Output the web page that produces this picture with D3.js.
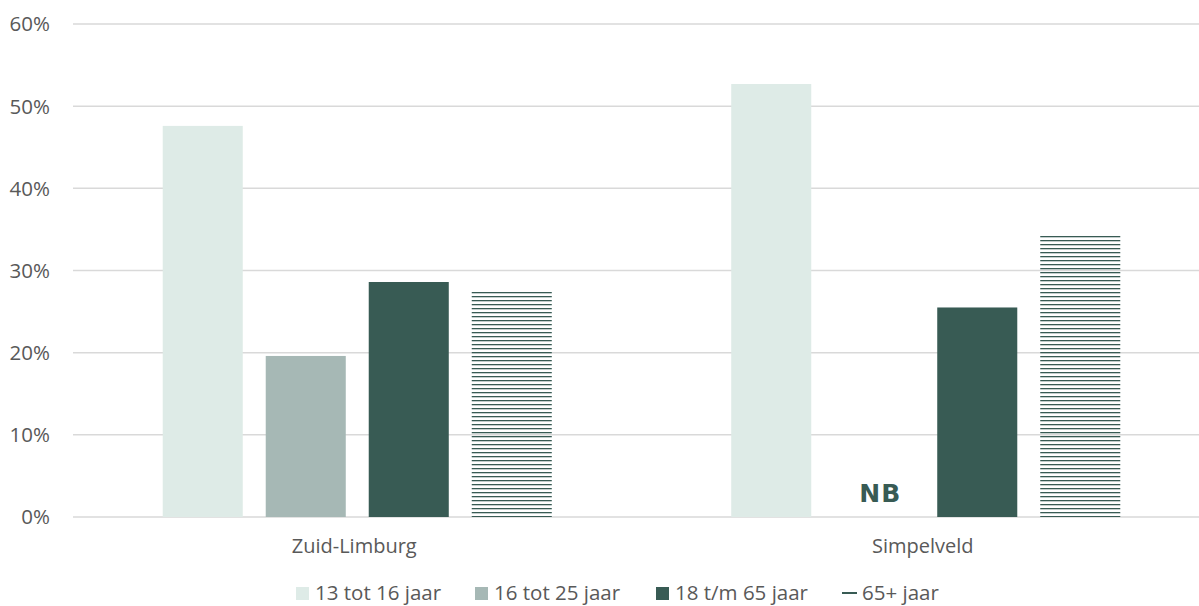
<!DOCTYPE html>
<html><head><meta charset="utf-8">
<script src="https://cdn.jsdelivr.net/npm/d3@7"></script>
<style>body{margin:0;background:#fff}svg{display:block}</style>
</head><body><svg id="c" width="1199" height="606"></svg>
<script>
const categories = ["Zuid-Limburg", "Simpelveld"];
const series = ["13 tot 16 jaar", "16 tot 25 jaar", "18 t/m 65 jaar", "65+ jaar"];
const values13_16 = [47.6, 52.7];
const values16_25 = [19.6, null];
const values18_65 = [28.6, 25.5];
const values65plus = [27.6, 34.4];
const yTicks = [0, 10, 20, 30, 40, 50, 60];
const naLabel = "NB";

const seriesValues = [values13_16, values16_25, values18_65, values65plus];
const colors = ["#deebe7", "#a6b8b5", "#385b54", "pattern"];
const textColor = "#595959";
const font = "Open Sans, sans-serif";

const svg = d3.select("#c");
const defs = svg.append("defs");
const pat = defs.append("pattern").attr("id", "hstripe").attr("patternUnits", "userSpaceOnUse")
  .attr("width", 8).attr("height", 4);
pat.append("rect").attr("x", 0).attr("y", 0).attr("width", 8).attr("height", 1.3).attr("fill", "#385b54");

const y = d3.scaleLinear().domain([0, 60]).range([517, 24]);
const x0 = d3.scaleBand().domain(categories).range([73, 1210]).padding(0);
const x1 = d3.scaleBand().domain(series).range([0, x0.bandwidth()]).paddingInner(0.223).paddingOuter(0.871);

// grid
svg.append("g").selectAll("line").data(yTicks).join("line")
  .attr("x1", 73).attr("x2", 1199)
  .attr("y1", d => y(d)).attr("y2", d => y(d))
  .attr("stroke", "#d9d9d9").attr("stroke-width", 1.5);

svg.append("g").selectAll("text").data(yTicks).join("text")
  .attr("x", 50).attr("y", d => y(d)).attr("dy", "0.36em")
  .attr("text-anchor", "end").attr("fill", textColor)
  .style("font-family", font).style("font-size", "20.5px")
  .text(d => d + "%");

// bars
const data = [];
categories.forEach((c, ci) => series.forEach((s, si) => data.push({c, s, si, v: seriesValues[si][ci]})));
svg.append("g").selectAll("rect").data(data.filter(d => d.v != null)).join("rect")
  .attr("x", d => x0(d.c) + x1(d.s)).attr("width", x1.bandwidth())
  .attr("y", d => y(d.v)).attr("height", d => y(0) - y(d.v))
  .attr("fill", d => colors[d.si] === "pattern" ? "url(#hstripe)" : colors[d.si]);

// NB labels
svg.append("g").selectAll("text").data(data.filter(d => d.v == null)).join("text")
  .attr("x", d => x0(d.c) + x1(d.s) + x1.bandwidth() / 2 + 6)
  .attr("y", y(0) - 15).attr("text-anchor", "middle")
  .attr("fill", "#385b54").style("font-family", "DejaVu Sans, sans-serif").style("font-weight", "bold")
  .style("font-size", "25px").style("letter-spacing", "1px")
  .text(naLabel);

// category labels
svg.append("g").selectAll("text").data(categories).join("text")
  .attr("x", d => x0(d) + x0.bandwidth() / 2 - 3).attr("y", 553)
  .attr("text-anchor", "middle").attr("fill", textColor)
  .style("font-family", font).style("font-size", "20px").text(d => d);

// legend
const legX = [296, 475, 656, 842];
const lg = svg.append("g");
series.forEach((s, i) => {
  const g = lg.append("g").attr("transform", `translate(${legX[i]},600)`);
  if (colors[i] === "pattern") {
    g.append("rect").attr("x", 0).attr("y", -8).attr("width", 15).attr("height", 2).attr("fill", "#385b54");
  } else {
    g.append("rect").attr("x", 0).attr("y", -13).attr("width", 13).attr("height", 13).attr("fill", colors[i]);
  }
  g.append("text").attr("x", i === 3 ? 20 : 19).attr("y", 0)
    .attr("fill", textColor).style("font-family", font).style("font-size", "20.5px").text(s);
});
</script></body></html>
